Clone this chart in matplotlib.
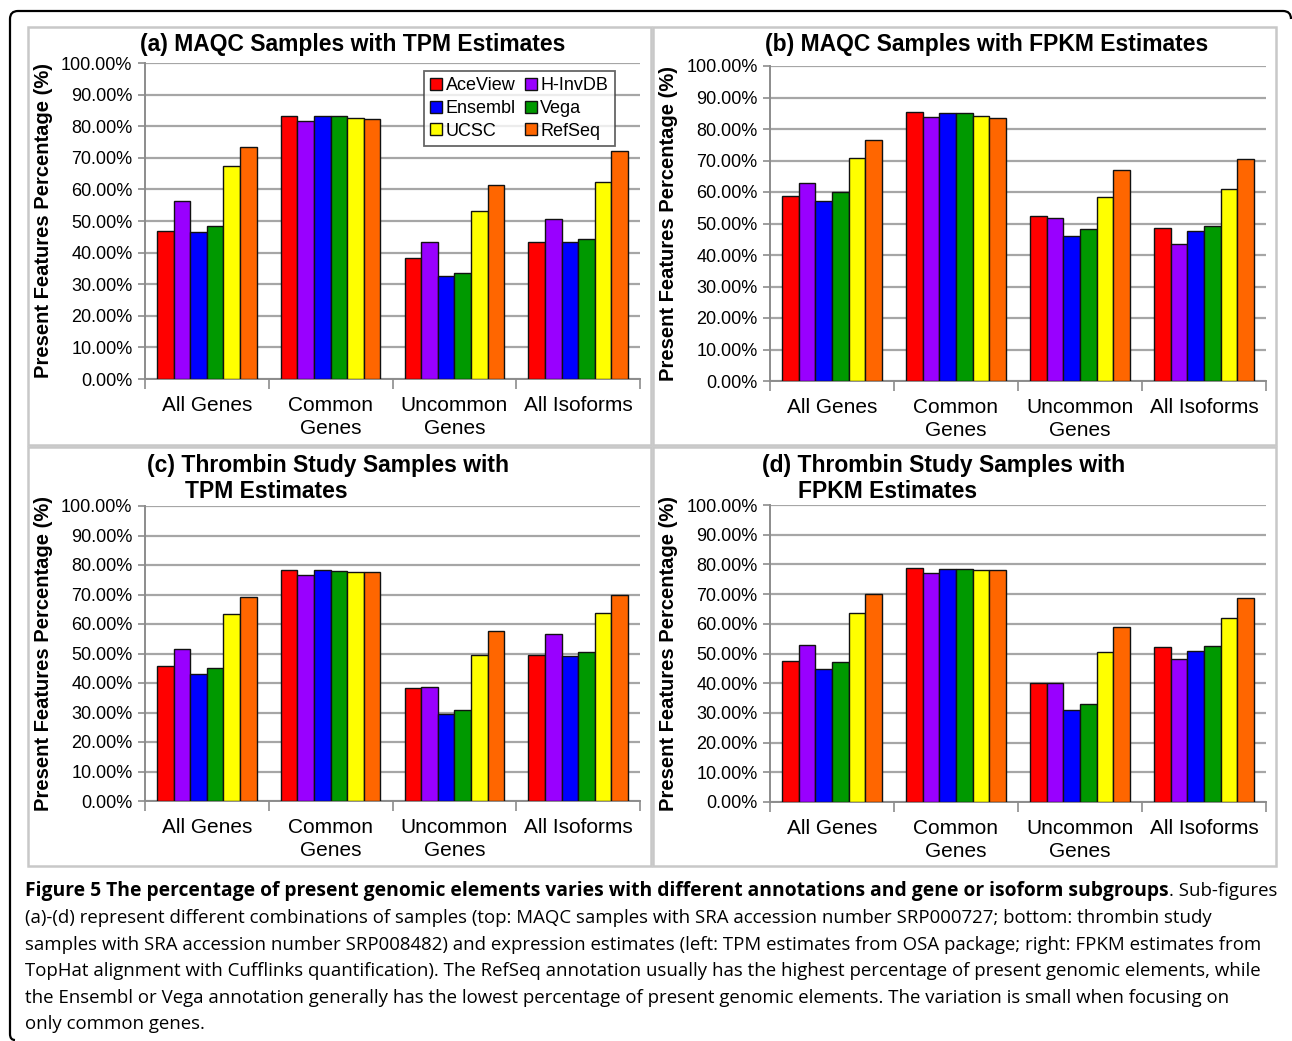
import matplotlib
matplotlib.use("Agg")
import matplotlib.pyplot as plt
from matplotlib.patches import Rectangle
from matplotlib.path import Path
from matplotlib.patches import PathPatch
import numpy as np

plt.rcParams['font.family'] = ['Liberation Sans', 'DejaVu Sans']

categories = ["All Genes", "Common\nGenes", "Uncommon\nGenes", "All Isoforms"]
annotations = ["AceView", "H-InvDB", "Ensembl", "Vega", "UCSC", "RefSeq"]
colors = ["#FF0000", "#9900FF", "#0000FF", "#009900", "#FFFF00", "#FF6600"]
ytick_vals = [0, 10, 20, 30, 40, 50, 60, 70, 80, 90, 100]
ytick_labels = ["0.00%", "10.00%", "20.00%", "30.00%", "40.00%", "50.00%",
                "60.00%", "70.00%", "80.00%", "90.00%", "100.00%"]

# values per annotation, order: All Genes, Common, Uncommon, All Isoforms
maqc_tpm = {
    "AceView": [46.8, 83.2, 38.3, 43.3],
    "H-InvDB": [56.3, 81.8, 43.5, 50.7],
    "Ensembl": [46.5, 83.2, 32.5, 43.3],
    "Vega":    [48.3, 83.2, 33.4, 44.4],
    "UCSC":    [67.3, 82.6, 53.3, 62.4],
    "RefSeq":  [73.5, 82.3, 61.5, 72.3],
}
maqc_fpkm = {
    "AceView": [58.6, 85.4, 52.4, 48.6],
    "H-InvDB": [62.8, 83.9, 51.8, 43.5],
    "Ensembl": [57.0, 85.1, 45.9, 47.5],
    "Vega":    [59.9, 85.1, 48.3, 49.3],
    "UCSC":    [70.8, 84.1, 58.3, 60.9],
    "RefSeq":  [76.6, 83.5, 66.9, 70.6],
}
thrombin_tpm = {
    "AceView": [45.9, 78.4, 38.3, 49.5],
    "H-InvDB": [51.4, 76.6, 38.5, 56.7],
    "Ensembl": [42.9, 78.4, 29.5, 49.2],
    "Vega":    [45.2, 78.1, 30.7, 50.4],
    "UCSC":    [63.3, 77.7, 49.5, 63.6],
    "RefSeq":  [69.2, 77.7, 57.6, 69.8],
}
thrombin_fpkm = {
    "AceView": [47.4, 78.8, 40.0, 52.2],
    "H-InvDB": [52.9, 77.2, 40.2, 48.3],
    "Ensembl": [44.8, 78.4, 31.1, 51.0],
    "Vega":    [47.1, 78.4, 33.0, 52.6],
    "UCSC":    [63.7, 78.2, 50.4, 61.8],
    "RefSeq":  [69.9, 78.2, 58.9, 68.7],
}

titles = [
    ["(a) MAQC Samples with TPM Estimates"],
    ["(b) MAQC Samples with FPKM Estimates"],
    ["(c) Thrombin Study Samples with", "TPM Estimates"],
    ["(d) Thrombin Study Samples with", "FPKM Estimates"],
]
ylabel_text = "Present Features Percentage (%)"

caption_bold = "Figure 5 The percentage of present genomic elements varies with different annotations and gene or isoform subgroups"
caption_lines = [
    ". Sub-figures",
    "(a)-(d) represent different combinations of samples (top: MAQC samples with SRA accession number SRP000727; bottom: thrombin study",
    "samples with SRA accession number SRP008482) and expression estimates (left: TPM estimates from OSA package; right: FPKM estimates from",
    "TopHat alignment with Cufflinks quantification). The RefSeq annotation usually has the highest percentage of present genomic elements, while",
    "the Ensembl or Vega annotation generally has the lowest percentage of present genomic elements. The variation is small when focusing on",
    "only common genes.",
]

W, H = 1292, 1041
fig = plt.figure(figsize=(W / 100, H / 100), dpi=100)
fig.patch.set_facecolor("white")


def fx(x):
    return x / W


def fy(y):
    return 1 - y / H


def add_axes_px(l, t, r, b):
    return fig.add_axes([fx(l), fy(b), fx(r) - fx(l), fy(t) - fy(b)])


# outer frame
verts = [(fx(1291), fy(19)), (fx(1291), fy(11)), (fx(1283), fy(11)),
         (fx(18), fy(11)), (fx(10), fy(11)), (fx(10), fy(19)),
         (fx(10), fy(1034)), (fx(10), fy(1040)), (fx(15), fy(1040))]
codes = [Path.MOVETO, Path.CURVE3, Path.CURVE3, Path.LINETO, Path.CURVE3, Path.CURVE3,
         Path.LINETO, Path.CURVE3, Path.CURVE3]
fig.patches.append(PathPatch(Path(verts, codes), transform=fig.transFigure,
                             facecolor="none", edgecolor="black", lw=1.6))

# panel borders
panel_boxes = [(28, 27, 651, 445), (653, 27, 1276, 445), (28, 447, 651, 866), (653, 447, 1276, 866)]
for (l, t, r, b) in panel_boxes:
    fig.patches.append(Rectangle((fx(l), fy(b)), fx(r) - fx(l), fy(t) - fy(b),
                                 transform=fig.transFigure, facecolor="none",
                                 edgecolor="#C8C8C8", lw=1.8))

axes_px = [(145, 63, 640, 379), (770, 66, 1266, 381), (145, 506, 640, 801), (770, 505, 1266, 802)]
datasets = [maqc_tpm, maqc_fpkm, thrombin_tpm, thrombin_fpkm]
title_pos = [
    [(140, 43)],
    [(765, 43)],
    [(147, 464), (185, 490)],
    [(762, 464), (798, 490)],
]
ylabel_x = [43, 668, 43, 668]

x = np.arange(len(categories))
bw = 0.134
for k, (box, data) in enumerate(zip(axes_px, datasets)):
    ax = add_axes_px(*box)
    for i, name in enumerate(annotations):
        ax.bar(x + (i - 2.5) * bw, data[name], width=bw, color=colors[i],
               edgecolor="#111111", linewidth=1.0, label=name, zorder=3)
    ax.set_xlim(-0.5, 3.5)
    ax.set_ylim(0, 100)
    ax.set_yticks(ytick_vals)
    ax.set_yticklabels(ytick_labels, fontsize=13)
    ax.yaxis.grid(True, color="#A6A6A6", lw=1.6, zorder=0)
    ax.set_axisbelow(True)
    ax.tick_params(axis="y", length=5, width=1.2, color="#8C8C8C", pad=4)
    ax.set_xticks(x)
    ax.set_xticklabels(categories, fontsize=15, linespacing=1.3)
    ax.tick_params(axis="x", which="major", length=0, pad=12)
    ax.set_xticks(np.arange(-0.5, 4.0, 1.0), minor=True)
    ax.tick_params(axis="x", which="minor", length=7, width=1.2, color="#8C8C8C")
    for s in ["top", "right"]:
        ax.spines[s].set_visible(False)
    for s in ["left", "bottom"]:
        ax.spines[s].set_color("#8C8C8C")
        ax.spines[s].set_linewidth(1.4)
    # titles
    for line, (tx, ty) in zip(titles[k], title_pos[k]):
        fig.text(fx(tx), fy(ty + 1), line, fontsize=16.5, fontweight="bold",
                 ha="left", va="center")
    cy = (box[1] + box[3]) / 2
    fig.text(fx(ylabel_x[k] + 1), fy(cy), ylabel_text, fontsize=14.5, fontweight="bold",
             rotation=90, ha="center", va="center")
    if k == 0:
        h, lab = ax.get_legend_handles_labels()
        order = [0, 2, 4, 1, 3, 5]
        leg = ax.legend([h[i] for i in order], [lab[i] for i in order], ncol=2,
                        loc="upper left", bbox_to_anchor=(0.564, 0.975),
                        borderaxespad=0, fontsize=13, frameon=True, fancybox=False,
                        handlelength=0.65, handleheight=0.65, handletextpad=0.2,
                        columnspacing=0.5, labelspacing=0.32, borderpad=0.35)
        leg.get_frame().set_edgecolor("#404040")
        leg.get_frame().set_linewidth(1.3)
        leg.set_zorder(5)

# caption
renderer = fig.canvas.get_renderer()
cap_family = ["Open Sans", "DejaVu Sans"]
probe = fig.text(0, 0, caption_lines[1], fontsize=10, family=cap_family)
wprobe = probe.get_window_extent(renderer).width
probe.remove()
reg_size = 10 * (1208 - 25) / wprobe
probe = fig.text(0, 0, caption_bold, fontsize=10, family=cap_family, fontweight="bold")
wprobe = probe.get_window_extent(renderer).width
probe.remove()
bold_size = 10 * (1168 - 25) / wprobe

baselines = [896, 923, 950, 976, 1003, 1029]
tb = fig.text(fx(25), fy(baselines[0]), caption_bold, fontsize=bold_size,
              family=cap_family, fontweight="bold", ha="left", va="baseline")
fig.canvas.draw()
bb = tb.get_window_extent(renderer)
fig.text(bb.x1 / W, fy(baselines[0]), caption_lines[0], fontsize=reg_size,
         family=cap_family, ha="left", va="baseline")
for line, yb in zip(caption_lines[1:], baselines[1:]):
    fig.text(fx(25), fy(yb), line, fontsize=reg_size, family=cap_family,
             ha="left", va="baseline")

fig.savefig("out.png", dpi=100)
